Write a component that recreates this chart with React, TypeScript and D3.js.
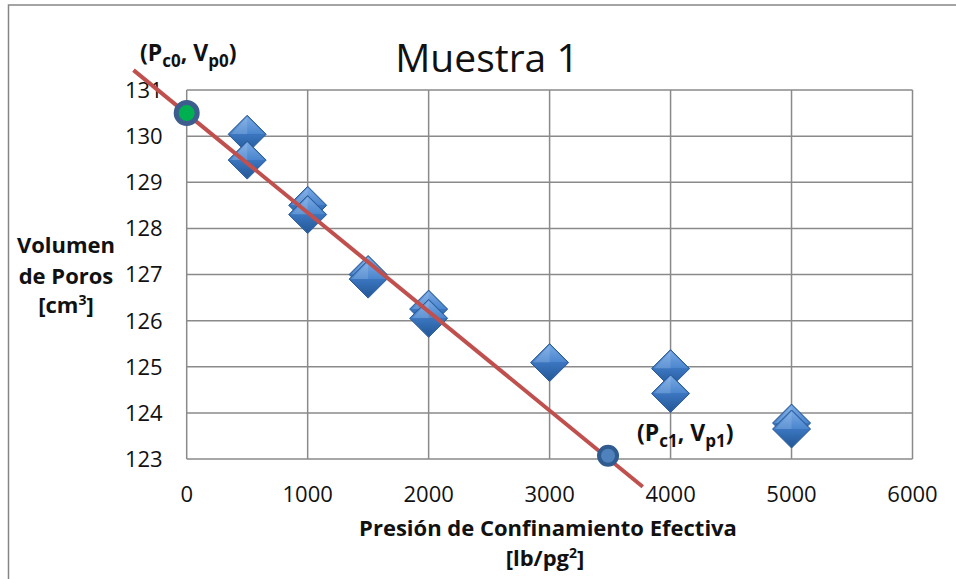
import { useEffect, useRef } from 'react';
import * as d3 from 'd3';

// measured points (effective confining pressure vs pore volume)
const pressure = [500, 500, 1000, 1000, 1500, 1500, 2000, 2000, 3000, 4000, 4000, 5000, 5000];
const poreVolume = [130.04, 129.48, 128.5, 128.3, 127.0, 126.9, 126.25, 126.05, 125.09, 124.96, 124.42, 123.78, 123.65];

// straight-line fit drawn across the plot
const fitX = [-440, 3770];
const fitY = [131.43, 122.4];

// the two marked points (Pc0, Vp0) and (Pc1, Vp1)
const startPoint = { x: 0, y: 130.5 };
const endPoint = { x: 3483, y: 123.07 };

const xTicks = [0, 1000, 2000, 3000, 4000, 5000, 6000];
const yTicks = [123, 124, 125, 126, 127, 128, 129, 130, 131];

const FONT = '"Open Sans", "Noto Sans", sans-serif';

export default function App() {
  const svgRef = useRef<SVGSVGElement>(null);
  const width = 956;
  const height = 579;

  useEffect(() => {
    if (!svgRef.current) return;
    const svg = d3.select(svgRef.current);
    svg.selectAll('*').remove();

    const plot = { left: 186.7, right: 912.5, top: 90, bottom: 459 };

    const x = d3.scaleLinear().domain([0, 6000]).range([plot.left, plot.right]);
    const y = d3.scaleLinear().domain([123, 131]).range([plot.bottom, plot.top]);

    const defs = svg.append('defs');
    const top = defs.append('linearGradient').attr('id', 'dTop').attr('x1', 0).attr('y1', 0).attr('x2', 0).attr('y2', 1);
    top.append('stop').attr('offset', '0%').attr('stop-color', '#79a9e4');
    top.append('stop').attr('offset', '100%').attr('stop-color', '#4a85cd');
    const bot = defs.append('linearGradient').attr('id', 'dBot').attr('x1', 0).attr('y1', 0).attr('x2', 0).attr('y2', 1);
    bot.append('stop').attr('offset', '0%').attr('stop-color', '#3b76c0');
    bot.append('stop').attr('offset', '100%').attr('stop-color', '#245897');

    // outer chart frame (only top and left edges are in view)
    svg.append('rect')
      .attr('x', 8.5)
      .attr('y', 5)
      .attr('width', 1000)
      .attr('height', 700)
      .attr('fill', 'white')
      .attr('stroke', '#868686')
      .attr('stroke-width', 1.5);

    // gridlines
    const grid = svg.append('g').attr('stroke', '#8a8a8a').attr('stroke-width', 1.5);
    xTicks.forEach((t) => {
      grid.append('line').attr('x1', x(t)).attr('x2', x(t)).attr('y1', plot.top).attr('y2', plot.bottom);
    });
    yTicks.forEach((t) => {
      grid.append('line').attr('x1', plot.left).attr('x2', plot.right).attr('y1', y(t)).attr('y2', y(t));
    });

    // tick labels
    svg.append('g')
      .selectAll('text')
      .data(yTicks)
      .join('text')
      .attr('x', plot.left - 24)
      .attr('y', (d) => y(d))
      .attr('dy', '0.36em')
      .attr('text-anchor', 'end')
      .attr('font-family', FONT)
      .attr('font-size', 22)
      .attr('fill', '#111')
      .text((d) => d);

    svg.append('g')
      .selectAll('text')
      .data(xTicks)
      .join('text')
      .attr('x', (d) => x(d))
      .attr('y', 502)
      .attr('text-anchor', 'middle')
      .attr('font-family', FONT)
      .attr('font-size', 22)
      .attr('fill', '#111')
      .text((d) => d);

    // diamonds
    const s = 19;
    const pts = pressure.map((p, i) => ({ p, v: poreVolume[i] }));
    const dia = svg.append('g')
      .selectAll('g')
      .data(pts)
      .join('g')
      .attr('transform', (d) => `translate(${x(d.p)},${y(d.v)})`);
    dia.append('path')
      .attr('d', `M0,${-s}L${s},0L0,${s}L${-s},0Z`)
      .attr('fill', '#2f67ad')
      .attr('stroke', '#2a5b98')
      .attr('stroke-width', 1);
    dia.append('path')
      .attr('d', `M0,${-s + 1}L${s - 1},0L${-s + 1},0Z`)
      .attr('fill', 'url(#dTop)');
    dia.append('path')
      .attr('d', `M${-s + 1},0L${s - 1},0L0,${s - 1}Z`)
      .attr('fill', 'url(#dBot)');
    dia.append('path')
      .attr('d', `M0,${-s + 2}L${-s + 3},0L0,0Z`)
      .attr('fill', '#ffffff')
      .attr('opacity', 0.12);

    // fit line
    svg.append('line')
      .attr('x1', x(fitX[0]))
      .attr('y1', y(fitY[0]))
      .attr('x2', x(fitX[1]))
      .attr('y2', y(fitY[1]))
      .attr('stroke', '#c0504d')
      .attr('stroke-width', 4);

    // marked points
    svg.append('circle')
      .attr('cx', x(startPoint.x))
      .attr('cy', y(startPoint.y))
      .attr('r', 10.5)
      .attr('fill', '#00b050')
      .attr('stroke', '#3c5d8e')
      .attr('stroke-width', 5);

    svg.append('circle')
      .attr('cx', x(endPoint.x))
      .attr('cy', y(endPoint.y))
      .attr('r', 9)
      .attr('fill', '#4f81bd')
      .attr('stroke', '#2f5b8e')
      .attr('stroke-width', 4);

    // title
    svg.append('text')
      .attr('x', 487)
      .attr('y', 72)
      .attr('text-anchor', 'middle')
      .attr('font-family', FONT)
      .attr('font-size', 39)
      .attr('fill', '#111')
      .text('Muestra 1');

    // annotations with subscripts
    const annotate = (ax: number, ay: number, a: string, b: string) => {
      const t = svg.append('text')
        .attr('x', ax)
        .attr('y', ay)
        .attr('font-family', FONT)
        .attr('font-size', 23)
        .attr('font-weight', 'bold')
        .attr('fill', '#111');
      t.append('tspan').text('(P');
      t.append('tspan').attr('font-size', 17).attr('dy', 6).text(a);
      t.append('tspan').attr('dy', -6).text(', V');
      t.append('tspan').attr('font-size', 17).attr('dy', 6).text(b);
      t.append('tspan').attr('dy', -6).text(')');
    };
    annotate(140, 61, 'c0', 'p0');
    annotate(637, 441, 'c1', 'p1');

    // axis titles
    svg.append('text')
      .attr('x', 548)
      .attr('y', 536)
      .attr('text-anchor', 'middle')
      .attr('font-family', FONT)
      .attr('font-size', 22)
      .attr('font-weight', 'bold')
      .attr('fill', '#111')
      .text('Presión de Confinamiento Efectiva');

    const unitX = svg.append('text')
      .attr('x', 545)
      .attr('y', 566)
      .attr('text-anchor', 'middle')
      .attr('font-family', FONT)
      .attr('font-size', 22)
      .attr('font-weight', 'bold')
      .attr('fill', '#111');
    unitX.append('tspan').text('[lb/pg');
    unitX.append('tspan').attr('font-size', 14).attr('dy', -8).text('2');
    unitX.append('tspan').attr('dy', 8).text(']');

    const yTitle = ['Volumen', 'de Poros'];
    yTitle.forEach((line, i) => {
      svg.append('text')
        .attr('x', 66)
        .attr('y', 253 + i * 31)
        .attr('text-anchor', 'middle')
        .attr('font-family', FONT)
        .attr('font-size', 22)
        .attr('font-weight', 'bold')
        .attr('fill', '#111')
        .text(line);
    });
    const unitY = svg.append('text')
      .attr('x', 66)
      .attr('y', 313)
      .attr('text-anchor', 'middle')
      .attr('font-family', FONT)
      .attr('font-size', 22)
      .attr('font-weight', 'bold')
      .attr('fill', '#111');
    unitY.append('tspan').text('[cm');
    unitY.append('tspan').attr('font-size', 14).attr('dy', -8).text('3');
    unitY.append('tspan').attr('dy', 8).text(']');
  }, []);

  return (
    <svg
      ref={svgRef}
      width={width}
      height={height}
      style={{ position: 'absolute', left: 0, top: 0, background: '#fff' }}
    />
  );
}
